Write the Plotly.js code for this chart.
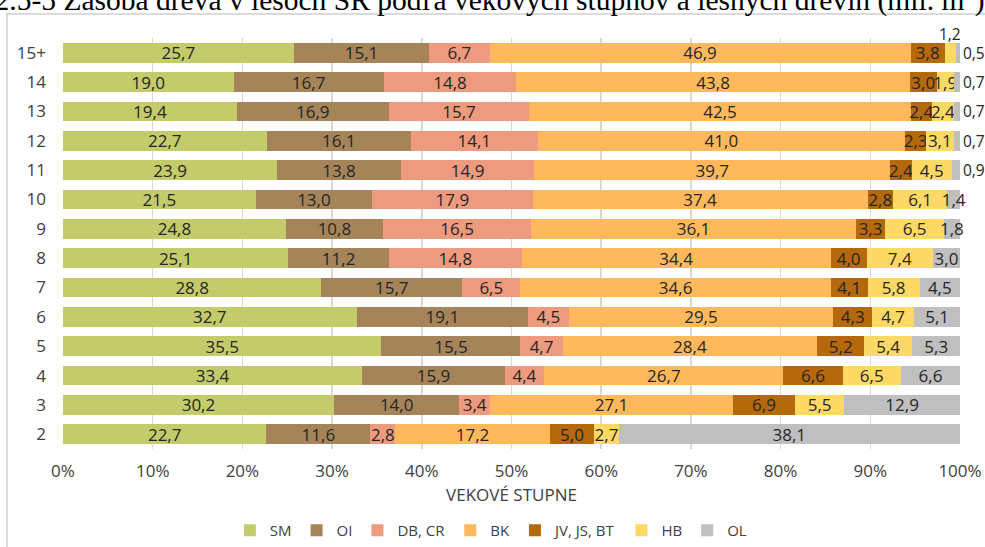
<!DOCTYPE html>
<html>
<head>
<meta charset="utf-8">
<script src="https://cdn.plot.ly/plotly-3.0.1.min.js"></script>
<style>
html,body{margin:0;padding:0;background:#fff;}
#chart{width:985px;height:547px;}
</style>
</head>
<body>
<div id="chart"></div>
<script>
// Age classes (top to bottom)
const categories = ['15+','14','13','12','11','10','9','8','7','6','5','4','3','2'];
// Share of growing stock by tree species (%)
const SM = [25.7,19.0,19.4,22.7,23.9,21.5,24.8,25.1,28.8,32.7,35.5,33.4,30.2,22.7];
const OI = [15.1,16.7,16.9,16.1,13.8,13.0,10.8,11.2,15.7,19.1,15.5,15.9,14.0,11.6];
const DB = [6.7,14.8,15.7,14.1,14.9,17.9,16.5,14.8,6.5,4.5,4.7,4.4,3.4,2.8];
const BK = [46.9,43.8,42.5,41.0,39.7,37.4,36.1,34.4,34.6,29.5,28.4,26.7,27.1,17.2];
const JV = [3.8,3.0,2.4,2.3,2.4,2.8,3.3,4.0,4.1,4.3,5.2,6.6,6.9,5.0];
const HB = [1.2,1.9,2.4,3.1,4.5,6.1,6.5,7.4,5.8,4.7,5.4,6.5,5.5,2.7];
const OL = [0.5,0.7,0.7,0.7,0.9,1.4,1.8,3.0,4.5,5.1,5.3,6.6,12.9,38.1];
const seriesNames = ['SM','OI','DB, CR','BK','JV, JS, BT','HB','OL'];
const xTickVals = [0,10,20,30,40,50,60,70,80,90,100];
const xTickText = ['0%','10%','20%','30%','40%','50%','60%','70%','80%','90%','100%'];

const series = [SM, OI, DB, BK, JV, HB, OL];
const colors = ['#C3CB6A','#A6845A','#EE9A7E','#FFB95C','#B5680C','#FFD966','#BFBFBF'];
const FONT = 'Open Sans, sans-serif';
const TXT = '#262626';
const fmt = v => v.toFixed(1).replace('.', ',');

// labels of the very narrow segments placed outside
const outsideOL = ['15+','14','13','12','11'];
const aboveHB = ['15+'];

const traces = series.map((vals, i) => {
  const name = seriesNames[i];
  let text = vals.map(fmt);
  let pos = vals.map(() => 'inside');
  if (name === 'OL') pos = categories.map(c => outsideOL.includes(c) ? 'outside' : 'inside');
  if (name === 'HB') pos = categories.map(c => aboveHB.includes(c) ? 'none' : 'inside');
  return {
    type: 'bar', orientation: 'h', name: name,
    x: vals, y: categories,
    marker: {color: colors[i], line: {width: 0}},
    text: text, textposition: pos, insidetextanchor: 'middle', textangle: 0,
    textfont: {family: FONT, size: 17, color: TXT},
    insidetextfont: {family: FONT, size: 17, color: TXT},
    outsidetextfont: {family: FONT, size: 15.5, color: TXT},
    cliponaxis: false, hoverinfo: 'skip'
  };
});

// annotation for HB label drawn above the 15+ bar
const annotations = aboveHB.map(cat => {
  const k = categories.indexOf(cat);
  const total = series.reduce((s, arr) => s + arr[k], 0);
  const before = SM[k] + OI[k] + DB[k] + BK[k] + JV[k];
  return {
    x: (before + HB[k] / 2) / total * 100, y: cat, xref: 'x', yref: 'y',
    text: fmt(HB[k]), showarrow: false, yshift: 19,
    font: {family: FONT, size: 15.5, color: TXT}
  };
});

const layout = {
  width: 985, height: 547,
  margin: {l: 63, r: 25, t: 38, b: 98, autoexpand: false},
  paper_bgcolor: '#fff', plot_bgcolor: '#fff',
  barmode: 'stack', barnorm: 'percent', bargap: 0.33,
  separators: ', ',
  title: {
    text: '2.5-5 Zásoba dreva v lesoch SR podľa vekových stupňov a lesných drevín (mil. m<sup>3</sup>)',
    font: {family: 'Liberation Serif, serif', size: 29.5, color: '#000'},
    x: 0.497, xref: 'container', xanchor: 'center',
    y: 1, yref: 'container', yanchor: 'middle', automargin: false
  },
  xaxis: {
    range: [0, 100], tickvals: xTickVals, ticktext: xTickText,
    showgrid: true, gridcolor: '#D9D9D9', gridwidth: 1.5,
    zeroline: false, showline: false, automargin: false,
    ticks: 'outside', ticklen: 7, tickcolor: 'rgba(0,0,0,0)',
    tickfont: {family: FONT, size: 17, color: '#404040'},
    title: {text: 'VEKOVÉ STUPNE', font: {family: FONT, size: 17, color: '#404040'}, standoff: 7},
    fixedrange: true
  },
  yaxis: {
    autorange: 'reversed', type: 'category', automargin: false,
    showgrid: false, zeroline: false, showline: false, ticks: '',
    ticklabelstandoff: 16,
    tickfont: {family: FONT, size: 17, color: '#404040'},
    fixedrange: true
  },
  legend: {
    orientation: 'h', x: 0.477, xanchor: 'center',
    yref: 'container', y: 33 / 547, yanchor: 'top',
    font: {family: FONT, size: 15, color: '#404040'}, traceorder: 'normal',
    itemwidth: 30, bgcolor: 'rgba(0,0,0,0)'
  },
  uniformtext: {minsize: 15, mode: 'show'},
  annotations: annotations,
  shapes: [{
    type: 'rect', xref: 'paper', yref: 'paper',
    x0: (7 - 63) / 897, x1: 1.2, y0: -0.4, y1: 1 + 24 / 411,
    line: {color: '#CFCFCF', width: 1.5}, fillcolor: 'rgba(0,0,0,0)', layer: 'below'
  }],
  showlegend: true
};

Plotly.newPlot('chart', traces, layout, {displayModeBar: false, staticPlot: true});
</script>
</body>
</html>
